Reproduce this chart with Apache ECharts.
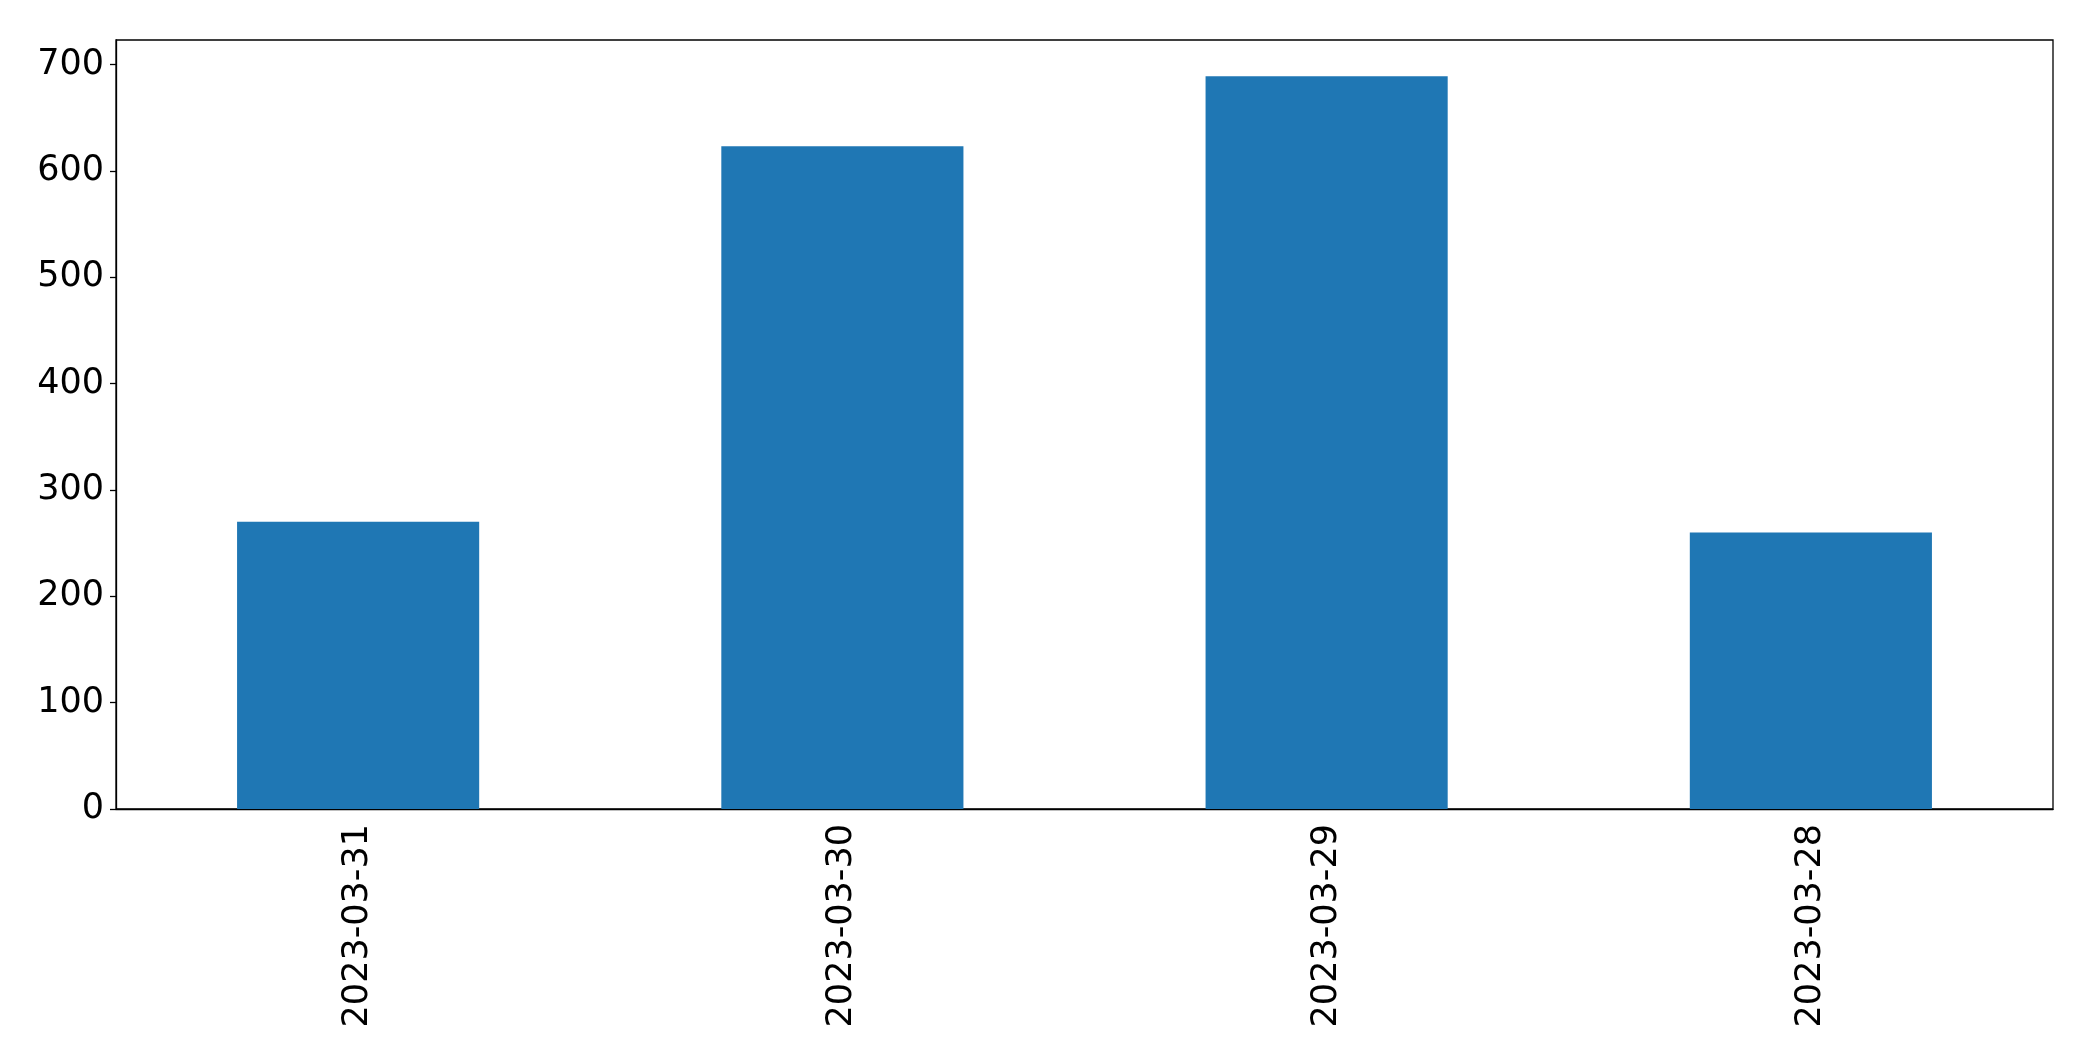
<!DOCTYPE html>
<html>
<head>
<meta charset="utf-8">
<script src="https://cdn.jsdelivr.net/npm/echarts@6/dist/echarts.min.js"></script>
<style>
html,body{margin:0;padding:0;background:#fff;}
#chart{width:2093px;height:1061px;}
</style>
</head>
<body>
<div id="chart"></div>
<script>
const categories = ["2023-03-31", "2023-03-30", "2023-03-29", "2023-03-28"];
const values = [270, 623, 689, 260];
const yTicks = [0, 100, 200, 300, 400, 500, 600, 700];

const chart = echarts.init(document.getElementById('chart'), null, {renderer: 'canvas'});
chart.setOption({
  animation: false,
  textStyle: {fontFamily: 'DejaVu Sans'},
  grid: {left: 116, right: 40, top: 40, bottom: 252, show: true, borderColor: '#000', borderWidth: 1.3, backgroundColor: 'transparent'},
  xAxis: {
    type: 'category',
    data: categories,
    boundaryGap: true,
    axisLine: {lineStyle: {color: '#000', width: 1.3}},
    axisTick: {alignWithLabel: true, length: 6, lineStyle: {color: '#000', width: 1.3}},
    axisLabel: {rotate: 90, color: '#000', fontSize: 35, fontFamily: 'DejaVu Sans', margin: 15, interval: 0}
  },
  yAxis: {
    type: 'value',
    min: 0,
    max: 723,
    interval: 100,
    splitLine: {show: false},
    axisLine: {show: true, lineStyle: {color: '#000', width: 1.3}},
    axisTick: {show: true, length: 6, customValues: yTicks, lineStyle: {color: '#000', width: 1.3}},
    axisLabel: {color: '#000', fontSize: 35, fontFamily: 'DejaVu Sans', margin: 12, customValues: yTicks}
  },
  series: [{
    type: 'bar',
    data: values,
    barWidth: '50%',
    itemStyle: {color: '#1f77b4'}
  }]
});
</script>
</body>
</html>
